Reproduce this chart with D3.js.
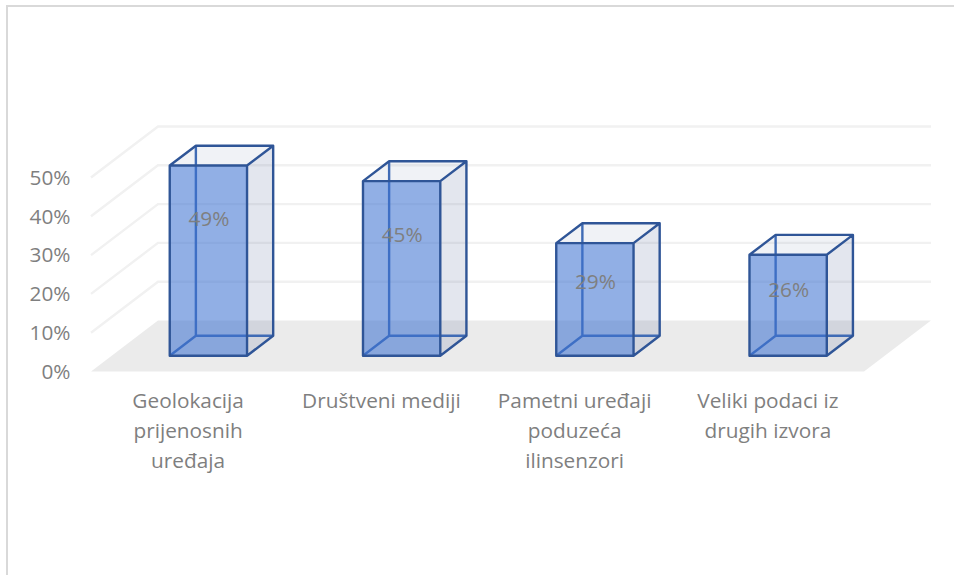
<!DOCTYPE html>
<html>
<head>
<meta charset="utf-8">
<script src="https://cdn.jsdelivr.net/npm/d3@7"></script>
<style>
  html, body { margin: 0; padding: 0; background: #fff; }
  svg { display: block; }
  text { font-family: "Open Sans", "Noto Sans", sans-serif; fill: #7f7f7f; }
</style>
</head>
<body>
<svg id="chart" width="954" height="575"></svg>
<script>
const categories = [
  ["Geolokacija", "prijenosnih", "uređaja"],
  ["Društveni mediji"],
  ["Pametni uređaji", "poduzeća", "ilinsenzori"],
  ["Veliki podaci iz", "drugih izvora"],
]
const values = [49, 45, 29, 26]
const ticks = [0, 10, 20, 30, 40, 50]

const svg = d3.select('#chart')

const x = d3.scaleBand()
  .domain(categories.map((d, i) => i))
  .range([91, 864])
  .paddingInner(0.6)
  .paddingOuter(0.3)
const y = d3.scaleLinear().domain([0, 50]).range([371.5, 177.5])

// oblique projection, depth runs 0 (front of the floor) to 1 (back wall)
const depthX = d3.scaleLinear().domain([0, 1]).range([0, 67])
const depthY = d3.scaleLinear().domain([0, 1]).range([0, -51])
const pt = (px, v, depth) => [px + depthX(depth), y(v) + depthY(depth)]
const poly = pts => pts.map(p => p.join(',')).join(' ')

const barFront = 0.31
const barBack = 0.7
const fontSize = 20.8

// chart frame
svg.append('path')
  .attr('d', 'M7,575V6H954')
  .attr('fill', 'none')
  .attr('stroke', '#d9d9d9')
  .attr('stroke-width', 2)

// floor
svg.append('polygon')
  .attr('points', poly([pt(91, 0, 0), pt(91, 0, 1), pt(864, 0, 1), pt(864, 0, 0)]))
  .attr('fill', '#ebebeb')

// gridlines along side wall and back wall
svg.append('g')
  .selectAll('polyline')
  .data(ticks.filter(d => d > 0))
  .join('polyline')
    .attr('points', d => poly([pt(91, d, 0), pt(91, d, 1), pt(864, d, 1)]))
    .attr('fill', 'none')
    .attr('stroke', '#f1f1f1')
    .attr('stroke-width', 2.4)

// value axis
svg.append('g')
  .selectAll('text')
  .data(ticks)
  .join('text')
    .attr('x', 70.5)
    .attr('y', d => y(d))
    .attr('dy', '0.35em')
    .attr('text-anchor', 'end')
    .attr('font-size', fontSize)
    .text(d => d + '%')

// bars
const bars = svg.append('g')
  .selectAll('g')
  .data(values)
  .join('g')

const edge = '#2f5597'
const corners = (i, v) => {
  const x0 = x(i)
  const x1 = x0 + x.bandwidth()
  return {
    fb: pt(x0, 0, barFront), fbr: pt(x1, 0, barFront),
    ft: pt(x0, v, barFront), ftr: pt(x1, v, barFront),
    bb: pt(x0, 0, barBack), bbr: pt(x1, 0, barBack),
    bt: pt(x0, v, barBack), btr: pt(x1, v, barBack),
  }
}

// right side and top
bars.append('polygon')
  .attr('points', (v, i) => { const c = corners(i, v); return poly([c.fbr, c.ftr, c.btr, c.bbr]) })
  .attr('fill', 'rgba(68,90,140,0.15)')
bars.append('polygon')
  .attr('points', (v, i) => { const c = corners(i, v); return poly([c.ft, c.bt, c.btr, c.ftr]) })
  .attr('fill', 'rgba(68,90,140,0.08)')

// hidden edges, lighter because they sit behind the front face
bars.append('path')
  .attr('d', (v, i) => {
    const c = corners(i, v)
    return `M${c.fb}L${c.bb}L${c.bbr}M${c.bb}L${c.bt}`
  })
  .attr('fill', 'none')
  .attr('stroke', '#3f6bb5')
  .attr('stroke-width', 2.4)

// front face
bars.append('polygon')
  .attr('points', (v, i) => { const c = corners(i, v); return poly([c.fb, c.ft, c.ftr, c.fbr]) })
  .attr('fill', 'rgba(62,114,210,0.57)')

// visible edges
bars.append('path')
  .attr('d', (v, i) => {
    const c = corners(i, v)
    return `M${c.fb}L${c.ft}L${c.ftr}L${c.fbr}Z` +
      `M${c.ft}L${c.bt}L${c.btr}L${c.ftr}` +
      `M${c.btr}L${c.bbr}L${c.fbr}`
  })
  .attr('fill', 'none')
  .attr('stroke', edge)
  .attr('stroke-width', 2.4)
  .attr('stroke-linejoin', 'round')

// data labels
svg.append('g')
  .selectAll('text')
  .data(values)
  .join('text')
    .attr('x', (v, i) => pt(x(i) + x.bandwidth() / 2, v, barFront)[0] + 0.5)
    .attr('y', v => {
      const top = pt(0, v, barFront)[1]
      const h = pt(0, 0, barFront)[1] - top
      return top + Math.min(53.5, h * 0.345)
    })
    .attr('dy', '0.35em')
    .attr('text-anchor', 'middle')
    .attr('font-size', fontSize)
    .text(v => v + '%')

// category labels
svg.append('g')
  .selectAll('text')
  .data(categories)
  .join('text')
    .attr('text-anchor', 'middle')
    .attr('font-size', fontSize)
    .attr('transform', (d, i) => `translate(${x(i) + x.bandwidth() / 2 + 0.5},401)`)
  .selectAll('tspan')
  .data(d => d)
  .join('tspan')
    .attr('x', 0)
    .attr('y', (d, i) => i * 30)
    .attr('dy', '0.35em')
    .text(d => d)
</script>
</body>
</html>
